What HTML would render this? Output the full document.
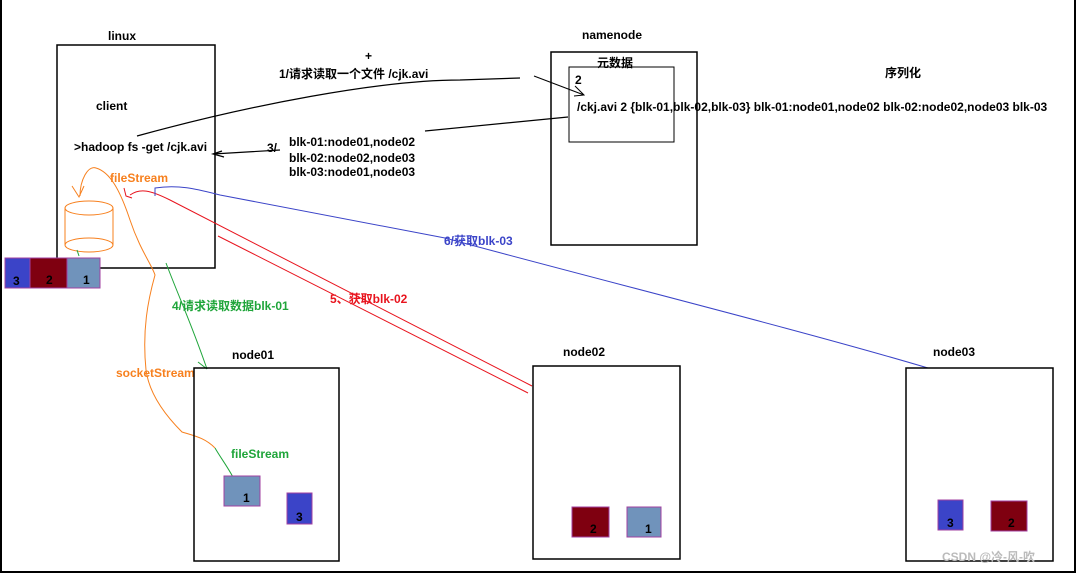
<!DOCTYPE html>
<html><head><meta charset="utf-8"><style>
html,body{margin:0;padding:0;background:#fff;}
svg{display:block;}
text{font-family:"Liberation Sans","Noto Sans CJK SC",sans-serif;font-size:12px;font-weight:bold;}
</style></head><body>
<svg width="1080" height="574" viewBox="0 0 1080 574" xmlns="http://www.w3.org/2000/svg">
<rect x="0" y="0" width="1080" height="574" fill="#fff"/>
<line x1="1" y1="0" x2="1" y2="573" stroke="#000" stroke-width="2"/>
<line x1="0" y1="572" x2="1076" y2="572" stroke="#000" stroke-width="2"/>
<line x1="1075" y1="0" x2="1075" y2="573" stroke="#000" stroke-width="2"/>

<!-- linux -->
<text x="108" y="40">linux</text>
<rect x="57" y="45" width="158" height="223" fill="none" stroke="#000" stroke-width="1.5"/>
<text x="96" y="110">client</text>
<text x="74" y="151">&gt;hadoop fs -get /cjk.avi</text>

<!-- namenode -->
<text x="582" y="39">namenode</text>
<rect x="551" y="52" width="146" height="193" fill="none" stroke="#000" stroke-width="1.5"/>
<rect x="569" y="67" width="105" height="75" fill="none" stroke="#000" stroke-width="1"/>
<text x="597" y="67" font-weight="normal">元数据</text>
<text x="575" y="84">2</text>
<text x="577" y="111" font-weight="normal">/ckj.avi  2  {blk-01,blk-02,blk-03}  blk-01:node01,node02    blk-02:node02,node03    blk-03</text>
<text x="885" y="77" font-weight="normal">序列化</text>

<!-- arrow 1 -->
<text x="279" y="78">1/请求读取一个文件  /cjk.avi</text>
<text x="365" y="60" font-size="9">+</text>
<path d="M137 136 C250 105 380 80 460 80 L520 78" fill="none" stroke="#000" stroke-width="1.2"/>
<path d="M534 76 L584 95 M575 86 L584 95 L574 96" fill="none" stroke="#000" stroke-width="1"/>
<!-- arrow 3 -->
<path d="M568 117 L425 131" fill="none" stroke="#000" stroke-width="1.2"/>
<path d="M280 150 L213 154 M222 151 L213 154 L224 157" fill="none" stroke="#000" stroke-width="1.2"/>
<text x="267" y="152">3/</text>
<text x="289" y="146" font-weight="normal">blk-01:node01,node02</text>
<text x="289" y="162" font-weight="normal">blk-02:node02,node03</text>
<text x="289" y="176" font-weight="normal">blk-03:node01,node03</text>

<!-- cylinder -->
<ellipse cx="89" cy="208" rx="24" ry="7" fill="none" stroke="#f7801e" stroke-width="1"/>
<line x1="65" y1="208" x2="65" y2="245" stroke="#f7801e"/>
<line x1="113" y1="208" x2="113" y2="245" stroke="#f7801e"/>
<ellipse cx="89" cy="245" rx="24" ry="7" fill="none" stroke="#f7801e" stroke-width="1"/>
<text x="110" y="182" fill="#f7801e">fileStream</text>
<!-- orange path -->
<path d="M80 196 C80 180 88 165 96 168 C110 172 120 190 130 220 C140 250 152 265 155 275 C148 300 142 330 146 370 C150 400 175 425 182 432 C195 436 205 438 215 448" fill="none" stroke="#f7801e" stroke-width="1"/>
<path d="M72 186 L79 197 L84 186" fill="none" stroke="#f7801e"/>
<text x="116" y="377" fill="#f7801e">socketStream</text>

<!-- block stack -->
<rect x="5" y="258" width="25" height="30" fill="#3b44c8" stroke="#a040a0"/>
<rect x="30" y="258" width="37" height="30" fill="#7f0010" stroke="#a040a0"/>
<rect x="67" y="258" width="33" height="30" fill="#7093bb" stroke="#a040a0"/>
<text x="13" y="285" font-size="14" font-weight="normal">3</text>
<text x="46" y="284" font-size="14" font-weight="normal">2</text>
<text x="83" y="284" font-size="14" font-weight="normal">1</text>

<!-- green -->
<path d="M166 263 C180 300 190 320 207 369" fill="none" stroke="#1fa53a" stroke-width="1"/>
<path d="M198 362 L207 369" stroke="#1fa53a"/>
<path d="M77 250 L79 256" stroke="#1fa53a"/>
<text x="172" y="310" fill="#1fa53a">4/请求读取数据blk-01</text>
<path d="M215 448 C222 460 230 470 236 483" fill="none" stroke="#1fa53a"/>
<text x="231" y="458" fill="#1fa53a">fileStream</text>

<!-- red -->
<path d="M130 195 C140 188 150 190 170 200 L532 386" fill="none" stroke="#e8141e" stroke-width="1"/>
<path d="M218 236 L528 393" fill="none" stroke="#e8141e" stroke-width="1"/>
<path d="M124 188 L126 196 L132 198" fill="none" stroke="#e8141e"/>
<text x="330" y="303" fill="#e8141e">5、获取blk-02</text>

<!-- blue -->
<path d="M155 196 L155 188 C180 184 200 190 220 195 L445 238 C600 280 800 330 928 368" fill="none" stroke="#3b44c8" stroke-width="1"/>
<text x="444" y="245" fill="#3b44c8">6/获取blk-03</text>

<!-- node01 -->
<text x="232" y="359">node01</text>
<rect x="194" y="368" width="145" height="193" fill="none" stroke="#000" stroke-width="1.5"/>
<rect x="224" y="476" width="36" height="30" fill="#7093bb" stroke="#a040a0"/>
<text x="243" y="502" font-size="14" font-weight="normal">1</text>
<rect x="287" y="493" width="25" height="31" fill="#3b44c8" stroke="#a040a0"/>
<text x="296" y="521" font-size="14" font-weight="normal">3</text>

<!-- node02 -->
<text x="563" y="356">node02</text>
<rect x="533" y="366" width="147" height="193" fill="none" stroke="#000" stroke-width="1.5"/>
<rect x="572" y="507" width="37" height="30" fill="#7f0010" stroke="#a040a0"/>
<text x="590" y="533" font-size="14" font-weight="normal">2</text>
<rect x="627" y="507" width="34" height="30" fill="#7093bb" stroke="#a040a0"/>
<text x="645" y="533" font-size="14" font-weight="normal">1</text>

<!-- node03 -->
<text x="933" y="356">node03</text>
<rect x="906" y="368" width="147" height="193" fill="none" stroke="#000" stroke-width="1.5"/>
<rect x="938" y="500" width="25" height="30" fill="#3b44c8" stroke="#a040a0"/>
<text x="947" y="527" font-size="14" font-weight="normal">3</text>
<rect x="991" y="501" width="36" height="30" fill="#7f0010" stroke="#a040a0"/>
<text x="1008" y="527" font-size="14" font-weight="normal">2</text>
<text x="942" y="561" font-size="14" font-weight="normal" fill="#bbb">CSDN @冷-风-吹</text>
</svg>
</body></html>
